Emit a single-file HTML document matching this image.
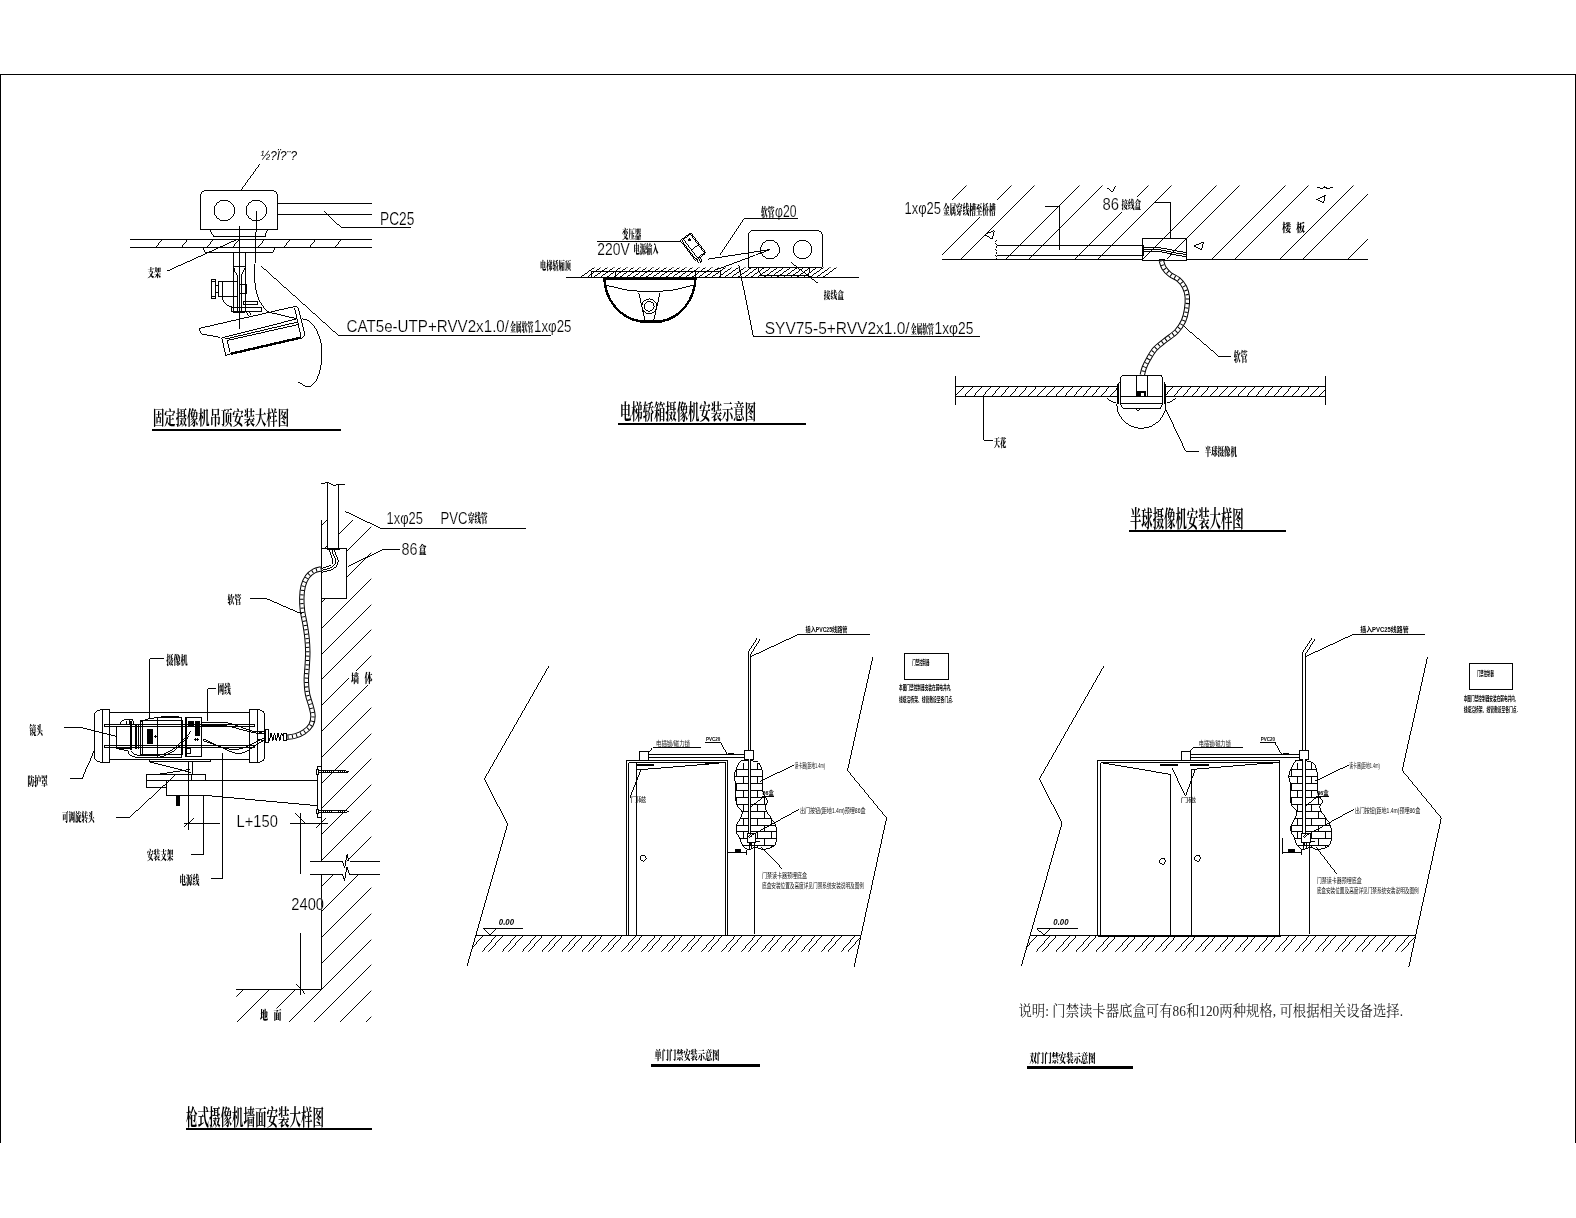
<!DOCTYPE html>
<html lang="zh-CN">
<head>
<meta charset="utf-8">
<title>摄像机及门禁安装大样图</title>
<style>
html,body{margin:0;padding:0;background:#fff;}
body{width:1576px;height:1218px;overflow:hidden;}
svg{display:block;will-change:transform;}
svg line,svg polyline,svg polygon,svg path,svg rect,svg circle,svg ellipse{fill:none;stroke:#000;stroke-width:0.99;}
svg .k{fill:#000;}
svg .wf{fill:#fff;}
svg .nf{fill:#fff;stroke:none;}
svg text{fill:#000;stroke:none;}
svg text.la{font-family:"Liberation Sans","Noto Sans CJK SC",sans-serif;stroke:#fff;stroke-width:0.2px;paint-order:fill stroke;}
svg text.cb{font-family:"Liberation Serif","Noto Serif CJK SC",serif;font-weight:900;}
svg text.ct{font-family:"Liberation Serif","Noto Serif CJK SC",serif;font-weight:700;}
svg text.cs{font-family:"Liberation Sans","Noto Sans CJK SC",sans-serif;font-weight:700;}
svg text.cl{font-family:"Liberation Sans","Noto Sans CJK SC",sans-serif;font-weight:400;fill:#111;}
svg text.it{font-family:"Liberation Sans","Noto Sans CJK SC",sans-serif;font-style:italic;}
svg text.ib{font-family:"Liberation Sans","Noto Sans CJK SC",sans-serif;font-style:italic;font-weight:700;}
svg text.nt{font-family:"Liberation Serif","Noto Serif CJK SC",serif;font-weight:400;fill:#222;}
</style>
</head>
<body>
<svg width="1576" height="1218" viewBox="0 0 1576 1218" shape-rendering="crispEdges">
<rect class="nf" x="0" y="0" width="1576" height="1218"/>
<g id="frame">
<line x1="0" y1="74.5" x2="1576" y2="74.5"/>
<line x1="0.5" y1="74" x2="0.5" y2="1143" style="stroke-width:1.4"/>
<line x1="1575.5" y1="74" x2="1575.5" y2="1143" style="stroke-width:1.4"/>
</g>
<g id="d1">
<text x="260.5" y="159.5" font-size="12.5" class="it" textLength="36.5" lengthAdjust="spacingAndGlyphs">½?Ï?¨?</text>
<line x1="260" y1="164" x2="241" y2="190"/>
<path d="M200.5,229.5 V197 Q200.5,190.5 207,190.5 H271 Q277.5,190.5 277.5,197 V229.5 Z"/>
<circle cx="224.3" cy="210.5" r="10.3"/>
<circle cx="256.4" cy="210.5" r="10.3"/>
<line x1="277.5" y1="203.3" x2="372" y2="203.3"/>
<line x1="277.5" y1="214.5" x2="372" y2="214.5"/>
<line x1="324.3" y1="211.7" x2="341.1" y2="227.4"/>
<line x1="341.1" y1="227.4" x2="411" y2="227.4"/>
<text x="380" y="225" font-size="17.64" class="la" textLength="34.3" lengthAdjust="spacingAndGlyphs">PC25</text>
<line x1="210" y1="229.5" x2="214.5" y2="236.3"/>
<line x1="214.5" y1="236.3" x2="264.5" y2="236.3"/>
<line x1="264.5" y1="236.3" x2="267" y2="229.5"/>
<line x1="213" y1="236.3" x2="266" y2="236.3"/>
<line x1="129.5" y1="239.5" x2="372" y2="239.5"/>
<line x1="129.5" y1="247.4" x2="372" y2="247.4"/>
<line x1="155" y1="247.4" x2="161.2" y2="239.5"/>
<line x1="180.6" y1="247.4" x2="186.8" y2="239.5"/>
<line x1="206.2" y1="247.4" x2="212.4" y2="239.5"/>
<line x1="231.8" y1="247.4" x2="238" y2="239.5"/>
<line x1="257.4" y1="247.4" x2="263.6" y2="239.5"/>
<line x1="283" y1="247.4" x2="289.2" y2="239.5"/>
<line x1="308.6" y1="247.4" x2="314.8" y2="239.5"/>
<line x1="334.2" y1="247.4" x2="340.4" y2="239.5"/>
<line x1="203.5" y1="247.5" x2="205.4" y2="252.2"/>
<line x1="205.4" y1="252.2" x2="272.8" y2="252.2"/>
<line x1="272.8" y1="252.2" x2="274.7" y2="247.5"/>
<line x1="233.4" y1="252.2" x2="233.4" y2="312"/>
<line x1="245.3" y1="252.2" x2="245.3" y2="312"/>
<line x1="239.4" y1="225.5" x2="239.4" y2="328.5"/>
<line x1="233.4" y1="266.8" x2="245.3" y2="266.8"/>
<path d="M234.3,267.5 Q234.8,273 237.2,275 M244.4,267.5 Q243.8,273 241.1,275"/>
<line x1="237.2" y1="275" x2="237.2" y2="311.5"/>
<line x1="241.1" y1="275" x2="241.1" y2="311.5"/>
<rect x="211.6" y="279.4" width="3.9" height="18.7"/>
<line x1="211.6" y1="281.3" x2="215.5" y2="281.3"/>
<line x1="211.6" y1="296.3" x2="215.5" y2="296.3"/>
<rect x="215.5" y="285" width="3.1" height="7.3"/>
<rect x="218.6" y="281.5" width="18.6" height="14.9"/>
<line x1="222" y1="281.5" x2="222" y2="296.4"/>
<rect x="239.4" y="284.6" width="7.3" height="8.6"/>
<line x1="246.5" y1="284.6" x2="246.5" y2="293.2" style="stroke-width:1.6"/>
<path d="M222.3,296.4 Q223,305.5 232.5,307.1"/>
<rect x="231.9" y="307.1" width="29.3" height="4.1"/>
<rect x="243.6" y="301.6" width="13.9" height="2.7"/>
<line x1="233.4" y1="312" x2="245.3" y2="312"/>
<line x1="246.5" y1="312" x2="248.5" y2="315.7"/>
<line x1="249.5" y1="312" x2="251.3" y2="315"/>
<line x1="256.4" y1="210.5" x2="255.4" y2="263"/>
<path d="M254.2,264.3 C254.28,267.02 254.22,275.62 254.7,280.6 C255.18,285.58 255.98,290.3 257.1,294.2 C258.22,298.1 259.65,301.17 261.4,304 C263.15,306.83 265.13,309.55 267.6,311.2 C270.07,312.85 271.28,312.63 276.2,313.9 C281.12,315.17 293.62,317.98 297.1,318.8"/>
<line x1="220.2" y1="337.3" x2="202.3" y2="334.2"/>
<line x1="202.3" y1="334.2" x2="200.5" y2="333.3"/>
<line x1="200.5" y1="333.3" x2="199.2" y2="328.4"/>
<line x1="199.2" y1="328.4" x2="294.7" y2="306.5"/>
<line x1="294.7" y1="306.5" x2="298.4" y2="307.5"/>
<line x1="298.4" y1="307.5" x2="305.1" y2="334.8"/>
<line x1="305.1" y1="334.8" x2="301.5" y2="337.3"/>
<line x1="294.7" y1="308.3" x2="300.8" y2="336"/>
<line x1="221.8" y1="337.9" x2="297.1" y2="318.8"/>
<line x1="225.1" y1="339.1" x2="298.4" y2="321.9"/>
<line x1="227.6" y1="340.4" x2="299" y2="324.4"/>
<line x1="221.8" y1="337.9" x2="225.7" y2="355.5"/>
<line x1="225.7" y1="355.5" x2="231.3" y2="353.5"/>
<line x1="227" y1="340.4" x2="230" y2="351.5"/>
<line x1="231.3" y1="353.7" x2="301.5" y2="337.5" style="stroke-width:2.4"/>
<path d="M301.5,318.8 C302.62,319.12 305.85,319.05 308.2,320.7 C310.55,322.35 313.55,325.32 315.6,328.7 C317.65,332.08 319.47,336.9 320.5,341 C321.53,345.1 321.8,348.78 321.8,353.3 C321.8,357.82 321.33,363.78 320.5,368.1 C319.67,372.42 318.23,376.33 316.8,379.2 C315.37,382.07 313.53,384.07 311.9,385.3 C310.27,386.53 309.25,387.12 307,386.6 C304.75,386.08 299.83,382.93 298.4,382.2"/>
<line x1="261.2" y1="266.1" x2="338.4" y2="335.4"/>
<line x1="338.4" y1="335.4" x2="551" y2="335.4"/>
<text x="346.5" y="331.9" font-size="16.81" class="la" textLength="162.5" lengthAdjust="spacingAndGlyphs">CAT5e-UTP+RVV2x1.0/</text>
<text x="510" y="332.16" font-size="12.04" class="cb" textLength="23.5" lengthAdjust="spacingAndGlyphs">金属软管</text>
<text x="534" y="331.9" font-size="16.81" class="la" textLength="37.5" lengthAdjust="spacingAndGlyphs">1xφ25</text>
<text x="147.5" y="277.02" font-size="11.08" class="cb" textLength="13.5" lengthAdjust="spacingAndGlyphs">支架</text>
<line x1="167" y1="271.2" x2="237" y2="239.5"/>
<text x="153" y="425.15" font-size="19.35" class="ct" textLength="136" lengthAdjust="spacingAndGlyphs">固定摄像机吊顶安装大样图</text>
<line x1="152" y1="430" x2="341" y2="430" style="stroke-width:2"/>
</g>
<g id="d2">
<clipPath id="c2"><polygon points="576,277.3 591,267.4 841,267.4 826,277.3"/></clipPath>
<g clip-path="url(#c2)">
<line x1="-1979.1" y1="2097.3" x2="3100.9" y2="-1542.7"/>
<line x1="-1972.55" y1="2097.3" x2="3107.45" y2="-1542.7"/>
<line x1="-1966" y1="2097.3" x2="3114" y2="-1542.7"/>
<line x1="-1959.45" y1="2097.3" x2="3120.55" y2="-1542.7"/>
<line x1="-1952.9" y1="2097.3" x2="3127.1" y2="-1542.7"/>
<line x1="-1946.35" y1="2097.3" x2="3133.65" y2="-1542.7"/>
<line x1="-1939.8" y1="2097.3" x2="3140.2" y2="-1542.7"/>
<line x1="-1933.25" y1="2097.3" x2="3146.75" y2="-1542.7"/>
<line x1="-1926.7" y1="2097.3" x2="3153.3" y2="-1542.7"/>
<line x1="-1920.15" y1="2097.3" x2="3159.85" y2="-1542.7"/>
<line x1="-1913.6" y1="2097.3" x2="3166.4" y2="-1542.7"/>
<line x1="-1907.05" y1="2097.3" x2="3172.95" y2="-1542.7"/>
<line x1="-1900.5" y1="2097.3" x2="3179.5" y2="-1542.7"/>
<line x1="-1893.95" y1="2097.3" x2="3186.05" y2="-1542.7"/>
<line x1="-1887.4" y1="2097.3" x2="3192.6" y2="-1542.7"/>
<line x1="-1880.85" y1="2097.3" x2="3199.15" y2="-1542.7"/>
<line x1="-1874.3" y1="2097.3" x2="3205.7" y2="-1542.7"/>
<line x1="-1867.75" y1="2097.3" x2="3212.25" y2="-1542.7"/>
<line x1="-1861.2" y1="2097.3" x2="3218.8" y2="-1542.7"/>
<line x1="-1854.65" y1="2097.3" x2="3225.35" y2="-1542.7"/>
<line x1="-1848.1" y1="2097.3" x2="3231.9" y2="-1542.7"/>
<line x1="-1841.55" y1="2097.3" x2="3238.45" y2="-1542.7"/>
<line x1="-1835" y1="2097.3" x2="3245" y2="-1542.7"/>
<line x1="-1828.45" y1="2097.3" x2="3251.55" y2="-1542.7"/>
<line x1="-1821.9" y1="2097.3" x2="3258.1" y2="-1542.7"/>
<line x1="-1815.35" y1="2097.3" x2="3264.65" y2="-1542.7"/>
<line x1="-1808.8" y1="2097.3" x2="3271.2" y2="-1542.7"/>
<line x1="-1802.25" y1="2097.3" x2="3277.75" y2="-1542.7"/>
<line x1="-1795.7" y1="2097.3" x2="3284.3" y2="-1542.7"/>
<line x1="-1789.15" y1="2097.3" x2="3290.85" y2="-1542.7"/>
<line x1="-1782.6" y1="2097.3" x2="3297.4" y2="-1542.7"/>
<line x1="-1776.05" y1="2097.3" x2="3303.95" y2="-1542.7"/>
<line x1="-1769.5" y1="2097.3" x2="3310.5" y2="-1542.7"/>
<line x1="-1762.95" y1="2097.3" x2="3317.05" y2="-1542.7"/>
<line x1="-1756.4" y1="2097.3" x2="3323.6" y2="-1542.7"/>
<line x1="-1749.85" y1="2097.3" x2="3330.15" y2="-1542.7"/>
<line x1="-1743.3" y1="2097.3" x2="3336.7" y2="-1542.7"/>
<line x1="-1736.75" y1="2097.3" x2="3343.25" y2="-1542.7"/>
<line x1="-1730.2" y1="2097.3" x2="3349.8" y2="-1542.7"/>
<line x1="-1723.65" y1="2097.3" x2="3356.35" y2="-1542.7"/>
<line x1="-1717.1" y1="2097.3" x2="3362.9" y2="-1542.7"/>
<line x1="-1710.55" y1="2097.3" x2="3369.45" y2="-1542.7"/>
<line x1="-1704" y1="2097.3" x2="3376" y2="-1542.7"/>
<line x1="-1697.45" y1="2097.3" x2="3382.55" y2="-1542.7"/>
<line x1="-1690.9" y1="2097.3" x2="3389.1" y2="-1542.7"/>
</g>
<line x1="566" y1="277.4" x2="859" y2="277.4"/>
<rect x="591.5" y="271.2" width="128.5" height="6.1"/>
<line x1="615.3" y1="271.2" x2="615.3" y2="277.3"/>
<line x1="695.5" y1="271.2" x2="695.5" y2="277.3"/>
<path d="M604.2,277.6 C605,300 620,318 640,321.3 H661.5 C680,318 695,300 695.6,277.6" style="stroke-width:2.4"/>
<line x1="603.2" y1="278.4" x2="696.6" y2="278.4" style="stroke-width:2.2"/>
<path d="M605.2,285 Q650,299 694.6,285"/>
<line x1="638.7" y1="292.6" x2="645" y2="320.3"/>
<line x1="645" y1="320.3" x2="653.8" y2="320.3"/>
<line x1="653.8" y1="320.3" x2="660" y2="292.6"/>
<circle cx="649.2" cy="306.3" r="7.4"/>
<circle cx="649.2" cy="306.3" r="4.9"/>
<g transform="translate(693.1,246.7) rotate(53.2)">
<rect x="-12.7" y="-6.5" width="25.4" height="13" rx="1.5"/>
<rect x="-11.6" y="-5.4" width="23.2" height="10.8"/>
<line x1="1.5" y1="-5.4" x2="1.5" y2="3.2"/>
<line x1="-11.6" y1="3.2" x2="11.6" y2="3.2"/>
<rect class="k" x="-9" y="-2.6" width="2.6" height="2.6" style="stroke:none"/>
<rect x="12.7" y="1.2" width="4.5" height="3.2"/>
<line x1="12.7" y1="2.8" x2="17.2" y2="2.8"/>
</g>
<line x1="708" y1="259.1" x2="770.4" y2="249.5"/>
<line x1="714.7" y1="270.3" x2="770.4" y2="249.5"/>
<text x="622" y="238.96" font-size="12.04" class="cb" textLength="19.3" lengthAdjust="spacingAndGlyphs">变压器</text>
<line x1="597" y1="241" x2="680.5" y2="241"/>
<text x="597.3" y="255" font-size="16.67" class="la" textLength="32.5" lengthAdjust="spacingAndGlyphs">220V</text>
<text x="633.6" y="254.45" font-size="12.15" class="cb" textLength="25" lengthAdjust="spacingAndGlyphs">电源输入</text>
<text x="540" y="269.99" font-size="11.61" class="cb" textLength="31" lengthAdjust="spacingAndGlyphs">电梯轿厢顶</text>
<text x="761" y="216.63" font-size="12.37" class="cb" textLength="13.5" lengthAdjust="spacingAndGlyphs">软管</text>
<text x="775" y="217.3" font-size="15.97" class="la" textLength="21.5" lengthAdjust="spacingAndGlyphs">φ20</text>
<line x1="798" y1="218.8" x2="743.8" y2="218.8"/>
<line x1="743.8" y1="218.8" x2="720" y2="255"/>
<path d="M748.2,267 V236.5 Q748.2,230.2 754.5,230.2 H816 Q822.4,230.2 822.4,236.5 V267 Z" style="fill:#fff"/>
<circle cx="770" cy="249.5" r="9.4"/>
<circle cx="802.5" cy="249.5" r="9.4"/>
<line x1="748.2" y1="252.9" x2="770.4" y2="249.5"/>
<line x1="748.2" y1="257.7" x2="770.4" y2="249.5"/>
<line x1="757.5" y1="267" x2="761" y2="275.2"/>
<line x1="761" y1="275.2" x2="808.7" y2="275.2"/>
<line x1="808.7" y1="275.2" x2="810" y2="267"/>
<text x="823.8" y="299.06" font-size="10.54" class="cb" textLength="20" lengthAdjust="spacingAndGlyphs">接线盒</text>
<line x1="791" y1="262.5" x2="817.5" y2="283"/>
<line x1="738.8" y1="265" x2="753.3" y2="336"/>
<line x1="753.3" y1="336" x2="980" y2="336"/>
<text x="764.7" y="333.5" font-size="16.67" class="la" textLength="145" lengthAdjust="spacingAndGlyphs">SYV75-5+RVV2x1.0/</text>
<text x="910.8" y="333.74" font-size="12.26" class="cb" textLength="23" lengthAdjust="spacingAndGlyphs">金属软管</text>
<text x="934.5" y="333.5" font-size="16.67" class="la" textLength="39" lengthAdjust="spacingAndGlyphs">1xφ25</text>
<text x="620" y="419.03" font-size="20.97" class="ct" textLength="136" lengthAdjust="spacingAndGlyphs">电梯轿箱摄像机安装示意图</text>
<line x1="618" y1="424" x2="806" y2="424" style="stroke-width:2"/>
</g>
<g id="d3">
<clipPath id="c3"><polygon points="942,259 942,185.6 1368,185.6 1368,259"/></clipPath>
<g clip-path="url(#c3)">
<line x1="-1175.8" y1="2259" x2="2824.2" y2="-1741"/>
<line x1="-1107.4" y1="2259" x2="2892.6" y2="-1741"/>
<line x1="-1062" y1="2259" x2="2938" y2="-1741"/>
<line x1="-1039" y1="2259" x2="2961" y2="-1741"/>
<line x1="-993.6" y1="2259" x2="3006.4" y2="-1741"/>
<line x1="-970.6" y1="2259" x2="3029.4" y2="-1741"/>
<line x1="-925.2" y1="2259" x2="3074.8" y2="-1741"/>
<line x1="-902.2" y1="2259" x2="3097.8" y2="-1741"/>
<line x1="-856.8" y1="2259" x2="3143.2" y2="-1741"/>
<line x1="-833.8" y1="2259" x2="3166.2" y2="-1741"/>
<line x1="-788.4" y1="2259" x2="3211.6" y2="-1741"/>
<line x1="-765.4" y1="2259" x2="3234.6" y2="-1741"/>
<line x1="-720" y1="2259" x2="3280" y2="-1741"/>
<line x1="-697" y1="2259" x2="3303" y2="-1741"/>
<line x1="-651.6" y1="2259" x2="3348.4" y2="-1741"/>
<line x1="-628.6" y1="2259" x2="3371.4" y2="-1741"/>
<line x1="-583.2" y1="2259" x2="3416.8" y2="-1741"/>
<line x1="-560.2" y1="2259" x2="3439.8" y2="-1741"/>
</g>
<rect class="nf" x="940" y="200" width="56.5" height="16.5"/>
<rect class="nf" x="1101" y="196.5" width="41" height="15"/>
<rect class="nf" x="1280" y="221.5" width="23" height="12.5"/>
<line x1="942" y1="259.2" x2="1368" y2="259.2"/>
<line x1="996.5" y1="245.3" x2="1142.5" y2="245.3"/>
<line x1="996.5" y1="255.4" x2="1142.5" y2="255.4"/>
<path d="M996.5,240 l-1.2,3 l1.6,3 l-1.6,3 l1.6,3 l-1.6,3 l1.6,3 l-0.8,2.5" stroke-dasharray="2.2 1.2"/>
<text x="904.5" y="213.6" font-size="17.08" class="la" textLength="36.5" lengthAdjust="spacingAndGlyphs">1xφ25</text>
<text x="943" y="213.91" font-size="12.69" class="cb" textLength="52.5" lengthAdjust="spacingAndGlyphs">金属穿线槽至桥槽</text>
<line x1="1045.3" y1="206.2" x2="1059.3" y2="206.2"/>
<line x1="1059.3" y1="206.2" x2="1059.3" y2="249.5"/>
<text x="1102.5" y="209.8" font-size="16.67" class="la" textLength="16.5" lengthAdjust="spacingAndGlyphs">86</text>
<text x="1121.5" y="209.49" font-size="11.61" class="cb" textLength="19.5" lengthAdjust="spacingAndGlyphs">接线盒</text>
<line x1="1153.8" y1="202.5" x2="1170.5" y2="202.5"/>
<line x1="1170.5" y1="202.5" x2="1170.5" y2="245"/>
<text x="1282" y="232.21" font-size="11.29" class="cb" textLength="9" lengthAdjust="spacingAndGlyphs">楼</text>
<text x="1296" y="232.21" font-size="11.29" class="cb" textLength="9" lengthAdjust="spacingAndGlyphs">板</text>
<rect x="1142.5" y="238.3" width="44.3" height="21.7" style="fill:#fff"/>
<g clip-path="url(#c3)">
<line x1="1142.5" y1="260" x2="1164.2" y2="238.3"/>
<line x1="1165.5" y1="260" x2="1186.8" y2="238.7"/>
</g>
<path d="M1142.5,247.5 H1152 C1162,247 1166,249.5 1186.8,252.5 M1142.5,249.5 H1153 C1163,249 1168,252.5 1186.8,254.5 M1142.5,251.6 H1154 C1164,251 1170,255 1186.8,256.5"/>
<line x1="1143.3" y1="245" x2="1143.3" y2="256" style="stroke-width:1.6"/>
<line x1="1159" y1="260.2" x2="1165" y2="260.2" style="stroke-width:2.2"/>
<line x1="984.7" y1="234.5" x2="994.2" y2="230.5"/>
<line x1="994.2" y1="230.5" x2="992" y2="239.2"/>
<line x1="992" y1="239.2" x2="984.7" y2="234.5"/>
<line x1="1106.6" y1="187.4" x2="1112.4" y2="192.2"/>
<line x1="1112.4" y1="192.2" x2="1115.3" y2="186"/>
<line x1="1193.8" y1="246" x2="1203.5" y2="242"/>
<line x1="1203.5" y1="242" x2="1201.5" y2="249.8"/>
<line x1="1201.5" y1="249.8" x2="1193.8" y2="246"/>
<line x1="1315.5" y1="199.5" x2="1325.3" y2="195.2"/>
<line x1="1325.3" y1="195.2" x2="1323.4" y2="203.3"/>
<line x1="1323.4" y1="203.3" x2="1315.5" y2="199.5"/>
<path d="M1317,187 l5,1.6 l3,-1.8 l3,1.8 l5,-1.2 M1324,186 l3.5,3"/>
<g shape-rendering="geometricPrecision">
<path d="M1161.3,260.5 C1161.75,261.75 1162.55,265.67 1164,268 C1165.45,270.33 1167.58,272.58 1170,274.5 C1172.42,276.42 1176.08,277.42 1178.5,279.5 C1180.92,281.58 1183.03,284.08 1184.5,287 C1185.97,289.92 1186.97,293.17 1187.3,297 C1187.63,300.83 1187.13,306 1186.5,310 C1185.87,314 1185.17,317.42 1183.5,321 C1181.83,324.58 1179.58,328.25 1176.5,331.5 C1173.42,334.75 1168.58,337.58 1165,340.5 C1161.42,343.42 1157.75,345.92 1155,349 C1152.25,352.08 1150.28,355.92 1148.5,359 C1146.72,362.08 1145.33,364.83 1144.3,367.5 C1143.27,370.17 1142.63,373.75 1142.3,375" style="stroke-width:5.4"/>
<path d="M1161.3,260.5 C1161.75,261.75 1162.55,265.67 1164,268 C1165.45,270.33 1167.58,272.58 1170,274.5 C1172.42,276.42 1176.08,277.42 1178.5,279.5 C1180.92,281.58 1183.03,284.08 1184.5,287 C1185.97,289.92 1186.97,293.17 1187.3,297 C1187.63,300.83 1187.13,306 1186.5,310 C1185.87,314 1185.17,317.42 1183.5,321 C1181.83,324.58 1179.58,328.25 1176.5,331.5 C1173.42,334.75 1168.58,337.58 1165,340.5 C1161.42,343.42 1157.75,345.92 1155,349 C1152.25,352.08 1150.28,355.92 1148.5,359 C1146.72,362.08 1145.33,364.83 1144.3,367.5 C1143.27,370.17 1142.63,373.75 1142.3,375" style="stroke:#fff;stroke-width:3.4"/>
<path d="M1161.3,260.5 C1161.75,261.75 1162.55,265.67 1164,268 C1165.45,270.33 1167.58,272.58 1170,274.5 C1172.42,276.42 1176.08,277.42 1178.5,279.5 C1180.92,281.58 1183.03,284.08 1184.5,287 C1185.97,289.92 1186.97,293.17 1187.3,297 C1187.63,300.83 1187.13,306 1186.5,310 C1185.87,314 1185.17,317.42 1183.5,321 C1181.83,324.58 1179.58,328.25 1176.5,331.5 C1173.42,334.75 1168.58,337.58 1165,340.5 C1161.42,343.42 1157.75,345.92 1155,349 C1152.25,352.08 1150.28,355.92 1148.5,359 C1146.72,362.08 1145.33,364.83 1144.3,367.5 C1143.27,370.17 1142.63,373.75 1142.3,375" style="stroke:#000;stroke-width:3.4;stroke-dasharray:1 3.4"/>
</g>
<line x1="1183.8" y1="326.3" x2="1218.8" y2="356.3"/>
<line x1="1218.8" y1="356.3" x2="1231.3" y2="356.3"/>
<text x="1233.8" y="361.12" font-size="12.58" class="cb" textLength="13.7" lengthAdjust="spacingAndGlyphs">软管</text>
<clipPath id="c3c"><polygon points="955.8,386.3 1325.6,386.3 1325.6,396.5 955.8,396.5"/></clipPath>
<g clip-path="url(#c3c)">
<line x1="-834" y1="2396.5" x2="2726" y2="-1603.5"/>
<line x1="-824.9" y1="2396.5" x2="2735.1" y2="-1603.5"/>
<line x1="-815.8" y1="2396.5" x2="2744.2" y2="-1603.5"/>
<line x1="-806.7" y1="2396.5" x2="2753.3" y2="-1603.5"/>
<line x1="-797.6" y1="2396.5" x2="2762.4" y2="-1603.5"/>
<line x1="-788.5" y1="2396.5" x2="2771.5" y2="-1603.5"/>
<line x1="-779.4" y1="2396.5" x2="2780.6" y2="-1603.5"/>
<line x1="-770.3" y1="2396.5" x2="2789.7" y2="-1603.5"/>
<line x1="-761.2" y1="2396.5" x2="2798.8" y2="-1603.5"/>
<line x1="-752.1" y1="2396.5" x2="2807.9" y2="-1603.5"/>
<line x1="-743" y1="2396.5" x2="2817" y2="-1603.5"/>
<line x1="-733.9" y1="2396.5" x2="2826.1" y2="-1603.5"/>
<line x1="-724.8" y1="2396.5" x2="2835.2" y2="-1603.5"/>
<line x1="-715.7" y1="2396.5" x2="2844.3" y2="-1603.5"/>
<line x1="-706.6" y1="2396.5" x2="2853.4" y2="-1603.5"/>
<line x1="-697.5" y1="2396.5" x2="2862.5" y2="-1603.5"/>
<line x1="-688.4" y1="2396.5" x2="2871.6" y2="-1603.5"/>
<line x1="-679.3" y1="2396.5" x2="2880.7" y2="-1603.5"/>
<line x1="-670.2" y1="2396.5" x2="2889.8" y2="-1603.5"/>
<line x1="-661.1" y1="2396.5" x2="2898.9" y2="-1603.5"/>
<line x1="-652" y1="2396.5" x2="2908" y2="-1603.5"/>
<line x1="-642.9" y1="2396.5" x2="2917.1" y2="-1603.5"/>
<line x1="-633.8" y1="2396.5" x2="2926.2" y2="-1603.5"/>
<line x1="-624.7" y1="2396.5" x2="2935.3" y2="-1603.5"/>
<line x1="-615.6" y1="2396.5" x2="2944.4" y2="-1603.5"/>
<line x1="-606.5" y1="2396.5" x2="2953.5" y2="-1603.5"/>
<line x1="-597.4" y1="2396.5" x2="2962.6" y2="-1603.5"/>
<line x1="-588.3" y1="2396.5" x2="2971.7" y2="-1603.5"/>
<line x1="-579.2" y1="2396.5" x2="2980.8" y2="-1603.5"/>
<line x1="-570.1" y1="2396.5" x2="2989.9" y2="-1603.5"/>
<line x1="-561" y1="2396.5" x2="2999" y2="-1603.5"/>
<line x1="-551.9" y1="2396.5" x2="3008.1" y2="-1603.5"/>
<line x1="-542.8" y1="2396.5" x2="3017.2" y2="-1603.5"/>
<line x1="-533.7" y1="2396.5" x2="3026.3" y2="-1603.5"/>
<line x1="-524.6" y1="2396.5" x2="3035.4" y2="-1603.5"/>
<line x1="-515.5" y1="2396.5" x2="3044.5" y2="-1603.5"/>
<line x1="-506.4" y1="2396.5" x2="3053.6" y2="-1603.5"/>
<line x1="-497.3" y1="2396.5" x2="3062.7" y2="-1603.5"/>
<line x1="-488.2" y1="2396.5" x2="3071.8" y2="-1603.5"/>
<line x1="-479.1" y1="2396.5" x2="3080.9" y2="-1603.5"/>
<line x1="-470" y1="2396.5" x2="3090" y2="-1603.5"/>
<line x1="-460.9" y1="2396.5" x2="3099.1" y2="-1603.5"/>
<line x1="-451.8" y1="2396.5" x2="3108.2" y2="-1603.5"/>
<line x1="-442.7" y1="2396.5" x2="3117.3" y2="-1603.5"/>
<line x1="-433.6" y1="2396.5" x2="3126.4" y2="-1603.5"/>
</g>
<line x1="955.8" y1="386.3" x2="1325.6" y2="386.3"/>
<line x1="955.8" y1="396.7" x2="1325.6" y2="396.7"/>
<line x1="955.8" y1="376" x2="955.8" y2="404.6"/>
<line x1="1325.6" y1="376.3" x2="1325.6" y2="404.8"/>
<line x1="983.8" y1="396.7" x2="983.8" y2="440"/>
<line x1="983.8" y1="440" x2="992.5" y2="440"/>
<text x="993.8" y="447.19" font-size="11.51" class="cb" textLength="12.5" lengthAdjust="spacingAndGlyphs">天花</text>
<rect class="nf" x="1117" y="385" width="49" height="13"/>
<path d="M1120.4,403.7 V377.5 L1122.5,375.1 H1160.7 L1162.8,377.5 V403.7 L1160.6,408 H1122.8 Z" style="fill:#fff"/>
<line x1="1120.4" y1="396.7" x2="1162.8" y2="396.7"/>
<line x1="1120.4" y1="403.7" x2="1162.8" y2="403.7"/>
<line x1="1136.5" y1="375.1" x2="1136.5" y2="396.7"/>
<line x1="1147" y1="375.1" x2="1147" y2="396.7"/>
<rect class="k" x="1136.5" y="391" width="9.2" height="5.7"/>
<rect class="wf" x="1140" y="392.5" width="4" height="4.2"/>
<line x1="1118" y1="383.5" x2="1118" y2="403.5" style="stroke-width:2"/>
<line x1="1165.2" y1="383.5" x2="1165.2" y2="403.5" style="stroke-width:2"/>
<line x1="1119.3" y1="382" x2="1117.5" y2="386"/>
<line x1="1163.9" y1="382" x2="1165.7" y2="386"/>
<path d="M1116.8,403.7 A24.6,24.6 0 0 0 1166,403.7"/>
<path d="M1107.6,397.5 Q1110,402.5 1116.2,402.4 M1175.2,397.5 Q1172.8,402.5 1166.6,402.4"/>
<line x1="1136" y1="409" x2="1138" y2="411"/>
<line x1="1138" y1="411" x2="1140" y2="409"/>
<line x1="1165.7" y1="409" x2="1185.7" y2="451.3"/>
<line x1="1185.7" y1="451.3" x2="1199" y2="451.3"/>
<text x="1204.7" y="455.99" font-size="11.61" class="cb" textLength="32.3" lengthAdjust="spacingAndGlyphs">半球摄像机</text>
<text x="1130" y="526.73" font-size="22.37" class="ct" textLength="113.7" lengthAdjust="spacingAndGlyphs">半球摄像机安装大样图</text>
<line x1="1129" y1="531" x2="1286" y2="531" style="stroke-width:2"/>
</g>
<g id="d4">
<clipPath id="c4"><path d="M321.3,520 H371.3 V1022 H236.3 V989.3 H321.3 Z M327.5,520 H338.8 V548.5 H327.5 Z M321.3,548 H346.3 V598.3 H321.3 Z M349,671 H371.3 V685 H349 Z M258,1008.5 H283 V1022 H258 Z M321.3,861.3 H371.3 V874.7 H321.3 Z" clip-rule="evenodd"/></clipPath>
<g clip-path="url(#c4)">
<line x1="-2245.42" y1="2989.3" x2="1754.58" y2="-1010.7"/>
<line x1="-2219.66" y1="2989.3" x2="1780.34" y2="-1010.7"/>
<line x1="-2193.9" y1="2989.3" x2="1806.1" y2="-1010.7"/>
<line x1="-2168.14" y1="2989.3" x2="1831.86" y2="-1010.7"/>
<line x1="-2142.38" y1="2989.3" x2="1857.62" y2="-1010.7"/>
<line x1="-2116.62" y1="2989.3" x2="1883.38" y2="-1010.7"/>
<line x1="-2090.86" y1="2989.3" x2="1909.14" y2="-1010.7"/>
<line x1="-2065.1" y1="2989.3" x2="1934.9" y2="-1010.7"/>
<line x1="-2039.34" y1="2989.3" x2="1960.66" y2="-1010.7"/>
<line x1="-2013.58" y1="2989.3" x2="1986.42" y2="-1010.7"/>
<line x1="-1987.82" y1="2989.3" x2="2012.18" y2="-1010.7"/>
<line x1="-1962.06" y1="2989.3" x2="2037.94" y2="-1010.7"/>
<line x1="-1936.3" y1="2989.3" x2="2063.7" y2="-1010.7"/>
<line x1="-1910.54" y1="2989.3" x2="2089.46" y2="-1010.7"/>
<line x1="-1884.78" y1="2989.3" x2="2115.22" y2="-1010.7"/>
<line x1="-1859.02" y1="2989.3" x2="2140.98" y2="-1010.7"/>
<line x1="-1833.26" y1="2989.3" x2="2166.74" y2="-1010.7"/>
<line x1="-1807.5" y1="2989.3" x2="2192.5" y2="-1010.7"/>
<line x1="-1781.74" y1="2989.3" x2="2218.26" y2="-1010.7"/>
<line x1="-1755.98" y1="2989.3" x2="2244.02" y2="-1010.7"/>
<line x1="-1730.22" y1="2989.3" x2="2269.78" y2="-1010.7"/>
<line x1="-1704.46" y1="2989.3" x2="2295.54" y2="-1010.7"/>
<line x1="-1678.7" y1="2989.3" x2="2321.3" y2="-1010.7"/>
<line x1="-1652.94" y1="2989.3" x2="2347.06" y2="-1010.7"/>
<line x1="-1627.18" y1="2989.3" x2="2372.82" y2="-1010.7"/>
<line x1="-1601.42" y1="2989.3" x2="2398.58" y2="-1010.7"/>
<line x1="-1575.66" y1="2989.3" x2="2424.34" y2="-1010.7"/>
<line x1="-1549.9" y1="2989.3" x2="2450.1" y2="-1010.7"/>
</g>
<line x1="321.3" y1="520" x2="321.3" y2="861.3"/>
<line x1="321.3" y1="874.7" x2="321.3" y2="989.3"/>
<line x1="236.3" y1="989.3" x2="321.3" y2="989.3"/>
<line x1="327.5" y1="482.5" x2="327.5" y2="548.5"/>
<line x1="338.8" y1="484.5" x2="338.8" y2="548.5"/>
<path d="M321.3,484 L327.5,482.5 L333,485.5 L338.8,484.5 L345,485"/>
<rect x="321.3" y="548.3" width="25" height="50" style="fill:#fff"/>
<line x1="326.5" y1="548.8" x2="339.5" y2="548.8" style="stroke-width:1.8"/>
<path d="M329.5,549 C330,556 333,557 332.5,562 C332,566 327,567 321.5,568 M332,549 C332.5,556 336,557 335.5,562 C335,567 329,569 321.5,570 M334.5,549 C335,556 338.5,557 338,562 C337.5,568 331,571 321.5,572"/>
<line x1="345" y1="511.3" x2="380" y2="528"/>
<line x1="380" y1="528" x2="526" y2="528"/>
<text x="386.5" y="523.5" font-size="16.25" class="la" textLength="36.5" lengthAdjust="spacingAndGlyphs">1xφ25</text>
<text x="440.5" y="523.5" font-size="16.25" class="la" textLength="27" lengthAdjust="spacingAndGlyphs">PVC</text>
<text x="468" y="523.45" font-size="12.15" class="cb" textLength="19.5" lengthAdjust="spacingAndGlyphs">穿线管</text>
<line x1="347.5" y1="566" x2="382.5" y2="549.5"/>
<line x1="382.5" y1="549.5" x2="400" y2="549.5"/>
<text x="401.5" y="554.5" font-size="15.97" class="la" textLength="16" lengthAdjust="spacingAndGlyphs">86</text>
<text x="418.5" y="554.47" font-size="11.83" class="cb" textLength="8" lengthAdjust="spacingAndGlyphs">盒</text>
<text x="351" y="683.13" font-size="12.37" class="cb" textLength="8" lengthAdjust="spacingAndGlyphs">墙</text>
<text x="364.5" y="683.13" font-size="12.37" class="cb" textLength="8" lengthAdjust="spacingAndGlyphs">体</text>
<g shape-rendering="geometricPrecision">
<path d="M321.3,568.8 C320.08,569.17 316.3,569.72 314,571 C311.7,572.28 309.3,574 307.5,576.5 C305.7,579 304.15,582.42 303.2,586 C302.25,589.58 301.92,593.83 301.8,598 C301.68,602.17 301.97,606.67 302.5,611 C303.03,615.33 304.25,619.5 305,624 C305.75,628.5 306.53,633.33 307,638 C307.47,642.67 307.77,647.33 307.8,652 C307.83,656.67 307.45,661.33 307.2,666 C306.95,670.67 306.25,675.33 306.3,680 C306.35,684.67 306.72,689.67 307.5,694 C308.28,698.33 310.08,702.33 311,706 C311.92,709.67 313,712.83 313,716 C313,719.17 312.5,722.33 311,725 C309.5,727.67 306.67,730.17 304,732 C301.33,733.83 297.95,735.12 295,736 C292.05,736.88 287.75,737.08 286.3,737.3" style="stroke-width:5.4"/>
<path d="M321.3,568.8 C320.08,569.17 316.3,569.72 314,571 C311.7,572.28 309.3,574 307.5,576.5 C305.7,579 304.15,582.42 303.2,586 C302.25,589.58 301.92,593.83 301.8,598 C301.68,602.17 301.97,606.67 302.5,611 C303.03,615.33 304.25,619.5 305,624 C305.75,628.5 306.53,633.33 307,638 C307.47,642.67 307.77,647.33 307.8,652 C307.83,656.67 307.45,661.33 307.2,666 C306.95,670.67 306.25,675.33 306.3,680 C306.35,684.67 306.72,689.67 307.5,694 C308.28,698.33 310.08,702.33 311,706 C311.92,709.67 313,712.83 313,716 C313,719.17 312.5,722.33 311,725 C309.5,727.67 306.67,730.17 304,732 C301.33,733.83 297.95,735.12 295,736 C292.05,736.88 287.75,737.08 286.3,737.3" style="stroke:#fff;stroke-width:3.4"/>
<path d="M321.3,568.8 C320.08,569.17 316.3,569.72 314,571 C311.7,572.28 309.3,574 307.5,576.5 C305.7,579 304.15,582.42 303.2,586 C302.25,589.58 301.92,593.83 301.8,598 C301.68,602.17 301.97,606.67 302.5,611 C303.03,615.33 304.25,619.5 305,624 C305.75,628.5 306.53,633.33 307,638 C307.47,642.67 307.77,647.33 307.8,652 C307.83,656.67 307.45,661.33 307.2,666 C306.95,670.67 306.25,675.33 306.3,680 C306.35,684.67 306.72,689.67 307.5,694 C308.28,698.33 310.08,702.33 311,706 C311.92,709.67 313,712.83 313,716 C313,719.17 312.5,722.33 311,725 C309.5,727.67 306.67,730.17 304,732 C301.33,733.83 297.95,735.12 295,736 C292.05,736.88 287.75,737.08 286.3,737.3" style="stroke:#000;stroke-width:3.4;stroke-dasharray:1 3.4"/>
</g>
<rect x="283.3" y="733.8" width="3.5" height="6.8" style="fill:#fff"/>
<line x1="283.3" y1="737" x2="281.55" y2="732.6"/>
<line x1="281.55" y1="732.6" x2="279.8" y2="741.2"/>
<line x1="279.8" y1="741.2" x2="278.05" y2="732.6"/>
<line x1="278.05" y1="732.6" x2="276.3" y2="741.2"/>
<line x1="276.3" y1="741.2" x2="274.55" y2="732.6"/>
<line x1="274.55" y1="732.6" x2="272.8" y2="741.2"/>
<line x1="272.8" y1="741.2" x2="271.05" y2="732.6"/>
<line x1="271.05" y1="732.6" x2="269.3" y2="741.2"/>
<line x1="269.3" y1="741.2" x2="268.4" y2="736.5"/>
<text x="227.5" y="603.97" font-size="11.83" class="cb" textLength="13.8" lengthAdjust="spacingAndGlyphs">软管</text>
<line x1="249.5" y1="598" x2="265" y2="598"/>
<line x1="265" y1="598" x2="301.5" y2="613.8"/>
<path d="M102.1,709.6 C97,710 94.5,712 94.5,716 V756 C94.5,760 97,762 102.1,762.3"/>
<rect x="102.1" y="709.6" width="7.7" height="52.7"/>
<rect x="249.4" y="709.6" width="8.2" height="52.7"/>
<path d="M257.6,709.6 C262.5,710 264.8,712 264.8,716 V756 C264.8,760 262.5,762 257.6,762.3"/>
<line x1="109.8" y1="712.2" x2="249.4" y2="712.2"/>
<line x1="109.8" y1="759.7" x2="249.4" y2="759.7"/>
<rect x="104.7" y="724.5" width="149.7" height="2"/>
<rect x="104.7" y="745.5" width="149.7" height="2"/>
<rect x="116.1" y="726.4" width="14.6" height="21.9"/>
<path d="M120,724.5 C121,720 125,719.5 127,719.8 H131.5 M126.5,724.5 V720.5 M129.5,724.5 V720 M131.5,719.8 C133.5,720 134,722 134,724.5"/>
<line x1="130.9" y1="720.5" x2="130.9" y2="750" style="stroke-width:1.8"/>
<line x1="135.9" y1="724.5" x2="135.9" y2="748.5" style="stroke-width:1.8"/>
<line x1="138.3" y1="724.5" x2="138.3" y2="748.5"/>
<rect x="140.3" y="720.4" width="42.4" height="34.3"/>
<rect x="157.3" y="717.2" width="24.1" height="40.1"/>
<line x1="161" y1="717.3" x2="179" y2="717.3" style="stroke-width:1.8"/>
<path d="M140.3,722.5 C146,718.5 152,718 157.3,717.8"/>
<line x1="142.5" y1="720.4" x2="142.5" y2="754.7"/>
<rect class="k" x="147.2" y="729.9" width="5.7" height="14"/>
<path d="M154,736.5 h3 M155.5,735 v3"/>
<rect x="185.3" y="717.8" width="15.9" height="38.2"/>
<line x1="185.9" y1="717.8" x2="185.9" y2="756" style="stroke-width:1.7"/>
<rect class="k" x="188.4" y="721.6" width="5.2" height="5.2"/>
<rect class="k" x="195.4" y="721.6" width="3.8" height="14"/>
<rect x="186.5" y="748.3" width="3.9" height="5.1"/>
<path d="M194,739.5 h5 M195.2,738.3 v2.4 M197.8,738.3 v2.4"/>
<line x1="201.2" y1="725.6" x2="223.5" y2="725.6" style="stroke-width:2.2"/>
<path d="M201.2,722.3 H222 C236,723 246,731 257,731.8 H265.2"/>
<path d="M223.5,725.6 C238,727 248,733.5 265.2,733.8"/>
<path d="M203,738.8 C218,745 230,753 238,753.5 C247,753.5 255,745 265.2,739.5"/>
<path d="M203,740.5 C214,744 222,749 234,749.5 C245,749.5 254,742.5 265.2,737.5"/>
<path d="M128,751 C129,757 135,757.5 145,757.6 H156 C168,757 180,748 188.5,735.5"/>
<path d="M131.5,750.5 C133,755 138,755.6 146,755.7 H157 C170,754 181,744.5 190.5,730.5"/>
<path d="M116.1,748.3 L128,751"/>
<rect x="265.2" y="729.4" width="3.2" height="13.2"/>
<line x1="257.6" y1="733.3" x2="265.2" y2="731"/>
<line x1="257.6" y1="739" x2="265.2" y2="741"/>
<rect x="149.2" y="759.7" width="60.8" height="2"/>
<line x1="149.2" y1="761.7" x2="190.5" y2="772.3"/>
<line x1="157.5" y1="774.3" x2="189" y2="769.4"/>
<circle cx="188.5" cy="769.3" r="1"/>
<line x1="188.4" y1="761.7" x2="188.4" y2="829.5"/>
<line x1="192.9" y1="761.7" x2="192.9" y2="774.3"/>
<line x1="205.6" y1="780.7" x2="205.6" y2="774.3"/>
<line x1="205.6" y1="774.3" x2="146.3" y2="774.3"/>
<line x1="146.3" y1="774.3" x2="146.3" y2="787"/>
<line x1="146.3" y1="787" x2="166.2" y2="787"/>
<line x1="188.4" y1="774.3" x2="188.4" y2="829.5"/>
<line x1="191.4" y1="774.3" x2="191.4" y2="780.7"/>
<line x1="146.3" y1="780.7" x2="317" y2="780.7"/>
<line x1="166.2" y1="780.7" x2="166.2" y2="795.3"/>
<line x1="166.2" y1="795.3" x2="203.5" y2="795.3"/>
<line x1="203.5" y1="795.3" x2="317" y2="805.6"/>
<rect class="k" x="176.4" y="795.8" width="3.2" height="9.7"/>
<rect x="317" y="766.3" width="4.3" height="51.3" style="fill:#fff"/>
<rect x="316" y="769.6" width="2.6" height="4.4" style="fill:#fff"/>
<line x1="318.6" y1="770.9" x2="346" y2="770.9"/>
<line x1="318.6" y1="772.7" x2="346" y2="772.7"/>
<line x1="346" y1="770.9" x2="348.8" y2="771.8"/>
<line x1="348.8" y1="771.8" x2="346" y2="772.7"/>
<line x1="323" y1="771.8" x2="345" y2="771.8" style="stroke-width:3;stroke-dasharray:0.8 1.3"/>
<rect x="316" y="809.3" width="2.6" height="4.4" style="fill:#fff"/>
<line x1="318.6" y1="810.6" x2="346" y2="810.6"/>
<line x1="318.6" y1="812.4" x2="346" y2="812.4"/>
<line x1="346" y1="810.6" x2="348.8" y2="811.5"/>
<line x1="348.8" y1="811.5" x2="346" y2="812.4"/>
<line x1="323" y1="811.5" x2="345" y2="811.5" style="stroke-width:3;stroke-dasharray:0.8 1.3"/>
<line x1="183.8" y1="823.6" x2="220" y2="823.6"/>
<line x1="290" y1="823.6" x2="327.5" y2="823.6"/>
<line x1="183.8" y1="827.5" x2="193.8" y2="818"/>
<line x1="316.3" y1="827.5" x2="326.3" y2="818"/>
<line x1="295" y1="812.5" x2="306.3" y2="823.8"/>
<text x="236.6" y="827" font-size="16.39" class="la" textLength="41.3" lengthAdjust="spacingAndGlyphs">L+150</text>
<line x1="163.8" y1="658.8" x2="149.6" y2="658.8"/>
<line x1="149.6" y1="658.8" x2="149.6" y2="718"/>
<text x="166.3" y="665.45" font-size="12.15" class="cb" textLength="21.3" lengthAdjust="spacingAndGlyphs">摄像机</text>
<line x1="216.3" y1="688.5" x2="207.5" y2="688.5"/>
<line x1="207.5" y1="688.5" x2="207.5" y2="721"/>
<text x="217.5" y="694.16" font-size="12.04" class="cb" textLength="13.3" lengthAdjust="spacingAndGlyphs">网线</text>
<line x1="63.8" y1="727" x2="78.8" y2="727"/>
<line x1="78.8" y1="727" x2="116.1" y2="736.3"/>
<text x="29.5" y="735.45" font-size="12.15" class="cb" textLength="13.3" lengthAdjust="spacingAndGlyphs">镜头</text>
<line x1="70" y1="778" x2="82.5" y2="778"/>
<line x1="82.5" y1="778" x2="94.2" y2="749.5"/>
<text x="27.5" y="786.45" font-size="12.15" class="cb" textLength="20.3" lengthAdjust="spacingAndGlyphs">防护罩</text>
<line x1="116.3" y1="817" x2="130" y2="817"/>
<line x1="130" y1="817" x2="175" y2="775.3"/>
<text x="62" y="821.63" font-size="12.37" class="cb" textLength="32.6" lengthAdjust="spacingAndGlyphs">可调旋转头</text>
<line x1="191.3" y1="854.5" x2="203.8" y2="854.5"/>
<line x1="203.8" y1="854.5" x2="203.8" y2="795.5"/>
<text x="147" y="860.13" font-size="12.37" class="cb" textLength="26.3" lengthAdjust="spacingAndGlyphs">安装支架</text>
<line x1="211.3" y1="878.3" x2="222.5" y2="878.3"/>
<line x1="222.5" y1="878.3" x2="222.5" y2="752.5"/>
<text x="179.5" y="885.45" font-size="12.15" class="cb" textLength="19.8" lengthAdjust="spacingAndGlyphs">电源线</text>
<line x1="300" y1="812.5" x2="300" y2="873.8"/>
<line x1="300" y1="932.5" x2="300" y2="995"/>
<line x1="296.3" y1="983.8" x2="305" y2="993.8"/>
<text x="291.3" y="910.2" font-size="16.53" class="la" textLength="32.7" lengthAdjust="spacingAndGlyphs">2400</text>
<line x1="310" y1="861.3" x2="342.5" y2="861.3"/>
<line x1="342.5" y1="861.3" x2="344.5" y2="867.5"/>
<line x1="344.5" y1="867.5" x2="347" y2="853.5"/>
<line x1="347" y1="853.5" x2="349.5" y2="861.3"/>
<line x1="349.5" y1="861.3" x2="380" y2="861.3"/>
<line x1="310" y1="874.7" x2="342.5" y2="874.7"/>
<line x1="342.5" y1="874.7" x2="344.5" y2="880.9"/>
<line x1="344.5" y1="880.9" x2="347" y2="866.9"/>
<line x1="347" y1="866.9" x2="349.5" y2="874.7"/>
<line x1="349.5" y1="874.7" x2="380" y2="874.7"/>
<text x="260" y="1020.45" font-size="12.15" class="cb" textLength="8" lengthAdjust="spacingAndGlyphs">地</text>
<text x="273.5" y="1020.45" font-size="12.15" class="cb" textLength="8" lengthAdjust="spacingAndGlyphs">面</text>
<text x="186" y="1124.77" font-size="21.83" class="ct" textLength="138" lengthAdjust="spacingAndGlyphs">枪式摄像机墙面安装大样图</text>
<line x1="186" y1="1129" x2="372" y2="1129" style="stroke-width:2"/>
</g>
<g id="d5">
<line x1="548.8" y1="666.3" x2="484.5" y2="778.8"/>
<line x1="484.5" y1="778.8" x2="507.5" y2="824.3"/>
<line x1="507.5" y1="824.3" x2="467" y2="966.3"/>
<clipPath id="cg5"><polygon points="475.8,935.5 861,935.5 857.4,951.8 471.1,951.8"/></clipPath>
<g clip-path="url(#cg5)">
<line x1="-2437.85" y1="4221.8" x2="3282.15" y2="-2318.2"/>
<line x1="-2431.15" y1="4221.8" x2="3288.85" y2="-2318.2"/>
<line x1="-2417.9" y1="4221.8" x2="3302.1" y2="-2318.2"/>
<line x1="-2411.2" y1="4221.8" x2="3308.8" y2="-2318.2"/>
<line x1="-2397.95" y1="4221.8" x2="3322.05" y2="-2318.2"/>
<line x1="-2391.25" y1="4221.8" x2="3328.75" y2="-2318.2"/>
<line x1="-2378" y1="4221.8" x2="3342" y2="-2318.2"/>
<line x1="-2371.3" y1="4221.8" x2="3348.7" y2="-2318.2"/>
<line x1="-2358.05" y1="4221.8" x2="3361.95" y2="-2318.2"/>
<line x1="-2351.35" y1="4221.8" x2="3368.65" y2="-2318.2"/>
<line x1="-2338.1" y1="4221.8" x2="3381.9" y2="-2318.2"/>
<line x1="-2331.4" y1="4221.8" x2="3388.6" y2="-2318.2"/>
<line x1="-2318.15" y1="4221.8" x2="3401.85" y2="-2318.2"/>
<line x1="-2311.45" y1="4221.8" x2="3408.55" y2="-2318.2"/>
<line x1="-2298.2" y1="4221.8" x2="3421.8" y2="-2318.2"/>
<line x1="-2291.5" y1="4221.8" x2="3428.5" y2="-2318.2"/>
<line x1="-2278.25" y1="4221.8" x2="3441.75" y2="-2318.2"/>
<line x1="-2271.55" y1="4221.8" x2="3448.45" y2="-2318.2"/>
<line x1="-2258.3" y1="4221.8" x2="3461.7" y2="-2318.2"/>
<line x1="-2251.6" y1="4221.8" x2="3468.4" y2="-2318.2"/>
<line x1="-2238.35" y1="4221.8" x2="3481.65" y2="-2318.2"/>
<line x1="-2231.65" y1="4221.8" x2="3488.35" y2="-2318.2"/>
<line x1="-2218.4" y1="4221.8" x2="3501.6" y2="-2318.2"/>
<line x1="-2211.7" y1="4221.8" x2="3508.3" y2="-2318.2"/>
<line x1="-2198.45" y1="4221.8" x2="3521.55" y2="-2318.2"/>
<line x1="-2191.75" y1="4221.8" x2="3528.25" y2="-2318.2"/>
<line x1="-2178.5" y1="4221.8" x2="3541.5" y2="-2318.2"/>
<line x1="-2171.8" y1="4221.8" x2="3548.2" y2="-2318.2"/>
<line x1="-2158.55" y1="4221.8" x2="3561.45" y2="-2318.2"/>
<line x1="-2151.85" y1="4221.8" x2="3568.15" y2="-2318.2"/>
<line x1="-2138.6" y1="4221.8" x2="3581.4" y2="-2318.2"/>
<line x1="-2131.9" y1="4221.8" x2="3588.1" y2="-2318.2"/>
<line x1="-2118.65" y1="4221.8" x2="3601.35" y2="-2318.2"/>
<line x1="-2111.95" y1="4221.8" x2="3608.05" y2="-2318.2"/>
<line x1="-2098.7" y1="4221.8" x2="3621.3" y2="-2318.2"/>
<line x1="-2092" y1="4221.8" x2="3628" y2="-2318.2"/>
<line x1="-2078.75" y1="4221.8" x2="3641.25" y2="-2318.2"/>
<line x1="-2072.05" y1="4221.8" x2="3647.95" y2="-2318.2"/>
<line x1="-2058.8" y1="4221.8" x2="3661.2" y2="-2318.2"/>
<line x1="-2052.1" y1="4221.8" x2="3667.9" y2="-2318.2"/>
<line x1="-2038.85" y1="4221.8" x2="3681.15" y2="-2318.2"/>
<line x1="-2032.15" y1="4221.8" x2="3687.85" y2="-2318.2"/>
<line x1="-2018.9" y1="4221.8" x2="3701.1" y2="-2318.2"/>
<line x1="-2012.2" y1="4221.8" x2="3707.8" y2="-2318.2"/>
<line x1="-1998.95" y1="4221.8" x2="3721.05" y2="-2318.2"/>
<line x1="-1992.25" y1="4221.8" x2="3727.75" y2="-2318.2"/>
</g>
<line x1="476" y1="935.5" x2="861" y2="935.5"/>
<line x1="482.5" y1="928.6" x2="496.3" y2="928.6"/>
<line x1="496.3" y1="928.6" x2="489.3" y2="935.2"/>
<line x1="489.3" y1="935.2" x2="482.5" y2="928.6"/>
<line x1="482.5" y1="928.6" x2="523" y2="928.6"/>
<text x="498.8" y="925.2" font-size="9.6" class="ib" textLength="15.2" lengthAdjust="spacingAndGlyphs">0.00</text>
<line x1="626.3" y1="760.5" x2="626.3" y2="935.5"/>
<line x1="628.8" y1="762.5" x2="628.8" y2="935.5"/>
<line x1="636.3" y1="762.5" x2="636.3" y2="935.5"/>
<line x1="725.5" y1="762.5" x2="725.5" y2="935.5"/>
<line x1="727.9" y1="760.5" x2="727.9" y2="935.5"/>
<line x1="626.3" y1="760.5" x2="727.9" y2="760.5"/>
<line x1="628.8" y1="762.5" x2="725.5" y2="762.5"/>
<line x1="636.3" y1="770" x2="718.8" y2="763.2"/>
<line x1="636" y1="765" x2="654" y2="765" style="stroke-width:1.6"/>
<line x1="705" y1="763.2" x2="719" y2="763.2" style="stroke-width:1.6"/>
<line x1="641.3" y1="768.8" x2="630" y2="797.5"/>
<text x="630.3" y="802.13" font-size="6.77" class="cl" textLength="16" lengthAdjust="spacingAndGlyphs">门磁</text>
<circle cx="643.3" cy="858.3" r="2.9"/>
<rect x="639.3" y="751.3" width="9" height="8.9"/>
<line x1="648.3" y1="754.6" x2="744.4" y2="754.6"/>
<line x1="648.3" y1="757.3" x2="744.4" y2="757.3"/>
<line x1="648.8" y1="752.5" x2="652.5" y2="747.6"/>
<line x1="652.5" y1="747.6" x2="701.3" y2="747.6"/>
<text x="656" y="745.52" font-size="6.88" class="cl" textLength="34" lengthAdjust="spacingAndGlyphs">电插锁/磁力锁</text>
<text x="706" y="741.01" font-size="5.59" class="cs" textLength="14.3" lengthAdjust="spacingAndGlyphs">PVC20</text>
<line x1="705" y1="742.3" x2="720.5" y2="742.3"/>
<line x1="720.3" y1="742.3" x2="727.8" y2="755"/>
<rect class="k" x="728.6" y="753.4" width="1.6" height="1.2"/>
<rect class="k" x="731" y="753" width="2.4" height="1"/>
<line x1="727.9" y1="852.5" x2="746.4" y2="852.5"/>
<line x1="746.4" y1="849.5" x2="746.4" y2="855"/>
<rect class="k" x="735.2" y="849.3" width="4.8" height="3"/>
<line x1="748" y1="652.5" x2="748" y2="750.3"/>
<line x1="750.9" y1="654" x2="750.9" y2="750.3"/>
<line x1="748" y1="652.5" x2="757.3" y2="638"/>
<line x1="750.9" y1="654" x2="760.3" y2="639"/>
<rect x="744.4" y="750.3" width="9" height="9.1" style="fill:#fff"/>
<clipPath id="cb5"><path d="M741.1,760.4 C740.48,761.38 738.55,763.72 737.4,766.3 C736.25,768.88 734.47,772.88 734.2,775.9 C733.93,778.92 735.53,781.02 735.8,784.4 C736.07,787.78 735.63,792.82 735.8,796.2 C735.97,799.58 735.73,802.03 736.8,804.7 C737.87,807.37 741.67,809.88 742.2,812.2 C742.73,814.52 740.98,816.28 740,818.6 C739.02,820.92 736.83,823.78 736.3,826.1 C735.77,828.42 736.35,830.73 736.8,832.5 C737.25,834.27 738.02,834.57 739,836.7 C739.98,838.83 741.2,843.17 742.7,845.3 C744.2,847.43 745.87,849.15 748,849.5 C750.13,849.85 753.17,847.43 755.5,847.4 C757.83,847.37 759.87,849.12 762,849.3 C764.13,849.48 766.18,849.17 768.3,848.5 C770.42,847.83 773.28,847.27 774.7,845.3 C776.12,843.33 776.53,839.55 776.8,836.7 C777.07,833.85 776.83,830.87 776.3,828.2 C775.77,825.53 774.93,823.02 773.6,820.7 C772.27,818.38 769.72,816.62 768.3,814.3 C766.88,811.98 765.18,808.93 765.1,806.8 C765.02,804.67 767.98,803.45 767.8,801.5 C767.62,799.55 764.9,797.42 764,795.1 C763.1,792.78 762.57,790.62 762.4,787.6 C762.23,784.58 763.27,780.55 763,777 C762.73,773.45 762.05,768.88 760.8,766.3 C759.55,763.72 758.78,762.48 755.5,761.5 C752.22,760.52 743.5,760.58 741.1,760.4" clip-rule="evenodd"/></clipPath>
<g clip-path="url(#cb5)">
<line x1="725" y1="769.5" x2="785" y2="769.5"/>
<line x1="743.2" y1="762.56" x2="743.2" y2="769.5"/>
<line x1="757.1" y1="762.56" x2="757.1" y2="769.5"/>
<line x1="771" y1="762.56" x2="771" y2="769.5"/>
<line x1="725" y1="776.44" x2="785" y2="776.44"/>
<line x1="736.3" y1="769.5" x2="736.3" y2="776.44"/>
<line x1="750.2" y1="769.5" x2="750.2" y2="776.44"/>
<line x1="764.1" y1="769.5" x2="764.1" y2="776.44"/>
<line x1="778" y1="769.5" x2="778" y2="776.44"/>
<line x1="725" y1="783.38" x2="785" y2="783.38"/>
<line x1="743.2" y1="776.44" x2="743.2" y2="783.38"/>
<line x1="757.1" y1="776.44" x2="757.1" y2="783.38"/>
<line x1="771" y1="776.44" x2="771" y2="783.38"/>
<line x1="725" y1="790.32" x2="785" y2="790.32"/>
<line x1="736.3" y1="783.38" x2="736.3" y2="790.32"/>
<line x1="750.2" y1="783.38" x2="750.2" y2="790.32"/>
<line x1="764.1" y1="783.38" x2="764.1" y2="790.32"/>
<line x1="778" y1="783.38" x2="778" y2="790.32"/>
<line x1="725" y1="797.26" x2="785" y2="797.26"/>
<line x1="743.2" y1="790.32" x2="743.2" y2="797.26"/>
<line x1="757.1" y1="790.32" x2="757.1" y2="797.26"/>
<line x1="771" y1="790.32" x2="771" y2="797.26"/>
<line x1="725" y1="804.2" x2="785" y2="804.2"/>
<line x1="736.3" y1="797.26" x2="736.3" y2="804.2"/>
<line x1="750.2" y1="797.26" x2="750.2" y2="804.2"/>
<line x1="764.1" y1="797.26" x2="764.1" y2="804.2"/>
<line x1="778" y1="797.26" x2="778" y2="804.2"/>
<line x1="725" y1="811.14" x2="785" y2="811.14"/>
<line x1="743.2" y1="804.2" x2="743.2" y2="811.14"/>
<line x1="757.1" y1="804.2" x2="757.1" y2="811.14"/>
<line x1="771" y1="804.2" x2="771" y2="811.14"/>
<line x1="725" y1="818.08" x2="785" y2="818.08"/>
<line x1="736.3" y1="811.14" x2="736.3" y2="818.08"/>
<line x1="750.2" y1="811.14" x2="750.2" y2="818.08"/>
<line x1="764.1" y1="811.14" x2="764.1" y2="818.08"/>
<line x1="778" y1="811.14" x2="778" y2="818.08"/>
<line x1="725" y1="825.02" x2="785" y2="825.02"/>
<line x1="743.2" y1="818.08" x2="743.2" y2="825.02"/>
<line x1="757.1" y1="818.08" x2="757.1" y2="825.02"/>
<line x1="771" y1="818.08" x2="771" y2="825.02"/>
<line x1="725" y1="831.96" x2="785" y2="831.96"/>
<line x1="736.3" y1="825.02" x2="736.3" y2="831.96"/>
<line x1="750.2" y1="825.02" x2="750.2" y2="831.96"/>
<line x1="764.1" y1="825.02" x2="764.1" y2="831.96"/>
<line x1="778" y1="825.02" x2="778" y2="831.96"/>
<line x1="725" y1="838.9" x2="785" y2="838.9"/>
<line x1="743.2" y1="831.96" x2="743.2" y2="838.9"/>
<line x1="757.1" y1="831.96" x2="757.1" y2="838.9"/>
<line x1="771" y1="831.96" x2="771" y2="838.9"/>
<line x1="725" y1="845.84" x2="785" y2="845.84"/>
<line x1="736.3" y1="838.9" x2="736.3" y2="845.84"/>
<line x1="750.2" y1="838.9" x2="750.2" y2="845.84"/>
<line x1="764.1" y1="838.9" x2="764.1" y2="845.84"/>
<line x1="778" y1="838.9" x2="778" y2="845.84"/>
<line x1="743.2" y1="845.84" x2="743.2" y2="852.78"/>
<line x1="757.1" y1="845.84" x2="757.1" y2="852.78"/>
<line x1="771" y1="845.84" x2="771" y2="852.78"/>
</g>
<path d="M741.1,760.4 C740.48,761.38 738.55,763.72 737.4,766.3 C736.25,768.88 734.47,772.88 734.2,775.9 C733.93,778.92 735.53,781.02 735.8,784.4 C736.07,787.78 735.63,792.82 735.8,796.2 C735.97,799.58 735.73,802.03 736.8,804.7 C737.87,807.37 741.67,809.88 742.2,812.2 C742.73,814.52 740.98,816.28 740,818.6 C739.02,820.92 736.83,823.78 736.3,826.1 C735.77,828.42 736.35,830.73 736.8,832.5 C737.25,834.27 738.02,834.57 739,836.7 C739.98,838.83 741.2,843.17 742.7,845.3 C744.2,847.43 745.87,849.15 748,849.5 C750.13,849.85 753.17,847.43 755.5,847.4 C757.83,847.37 759.87,849.12 762,849.3 C764.13,849.48 766.18,849.17 768.3,848.5 C770.42,847.83 773.28,847.27 774.7,845.3 C776.12,843.33 776.53,839.55 776.8,836.7 C777.07,833.85 776.83,830.87 776.3,828.2 C775.77,825.53 774.93,823.02 773.6,820.7 C772.27,818.38 769.72,816.62 768.3,814.3 C766.88,811.98 765.18,808.93 765.1,806.8 C765.02,804.67 767.98,803.45 767.8,801.5 C767.62,799.55 764.9,797.42 764,795.1 C763.1,792.78 762.57,790.62 762.4,787.6 C762.23,784.58 763.27,780.55 763,777 C762.73,773.45 762.05,768.88 760.8,766.3 C759.55,763.72 758.78,762.48 755.5,761.5 C752.22,760.52 743.5,760.58 741.1,760.4"/>
<rect class="nf" x="748.4" y="759.4" width="2.2" height="73.5"/>
<line x1="748" y1="759.4" x2="748" y2="833"/>
<line x1="750.9" y1="759.4" x2="750.9" y2="833"/>
<rect x="747" y="833" width="8.5" height="9" style="fill:#fff"/>
<ellipse cx="750.3" cy="836" rx="1.5" ry="0.9" transform="rotate(-30 750.3 836)"/>
<line x1="755.5" y1="838.5" x2="761.5" y2="838.5"/>
<line x1="755.5" y1="841.5" x2="760" y2="841.5"/>
<line x1="749" y1="842" x2="749" y2="848.5"/>
<line x1="751.5" y1="842" x2="751.5" y2="848.5"/>
<line x1="754.6" y1="842" x2="754.6" y2="933.5"/>
<line x1="749.9" y1="657.1" x2="798.6" y2="634.3"/>
<line x1="798.6" y1="634.3" x2="870" y2="634.3"/>
<text x="805.5" y="632.1" font-size="7.1" class="cs" textLength="42" lengthAdjust="spacingAndGlyphs">插入PVC25线路管</text>
<line x1="760" y1="781.3" x2="793.8" y2="765.2"/>
<text x="794.5" y="768.13" font-size="6.77" class="cl" textLength="30.5" lengthAdjust="spacingAndGlyphs">读卡器(距地1.4m)</text>
<text x="762.5" y="795.2" font-size="5.7" class="cs" textLength="11.3" lengthAdjust="spacingAndGlyphs">86盒</text>
<line x1="761.5" y1="796.5" x2="774" y2="796.5"/>
<line x1="763" y1="796.5" x2="750.5" y2="806.3"/>
<line x1="798.8" y1="809.5" x2="751.3" y2="835.5"/>
<text x="800" y="812.72" font-size="6.88" class="cl" textLength="65.5" lengthAdjust="spacingAndGlyphs">出门按钮(距地1.4m)预埋86盒</text>
<line x1="781.9" y1="868.5" x2="760.9" y2="846.6"/>
<text x="762" y="878.13" font-size="6.67" class="cl" textLength="45" lengthAdjust="spacingAndGlyphs">门禁读卡器预埋底盒</text>
<text x="762" y="888.1" font-size="7.1" class="cl" textLength="102" lengthAdjust="spacingAndGlyphs">底盒安装位置及高度详见门禁系统安装说明及图例</text>
<rect class="k" x="749" y="891.5" width="0.6" height="0.6" style="stroke:none"/>
<line x1="872.9" y1="656.7" x2="847.5" y2="770.4"/>
<line x1="847.5" y1="770.4" x2="886.6" y2="818"/>
<line x1="886.6" y1="818" x2="854.2" y2="966.6"/>
<rect x="904" y="653.3" width="44" height="26.3"/>
<text x="912.3" y="665.29" font-size="7.31" class="cs" textLength="17.2" lengthAdjust="spacingAndGlyphs">门禁控制器</text>
<text x="899" y="690.15" font-size="6.45" class="cs" textLength="52.3" lengthAdjust="spacingAndGlyphs">本图门禁控制器安装在弱电井内,</text>
<text x="899" y="701.73" font-size="6.67" class="cs" textLength="54" lengthAdjust="spacingAndGlyphs">线缆沿桥架、线管敷设至各门点.</text>
<text x="654.5" y="1060.45" font-size="12.15" class="cb" textLength="65" lengthAdjust="spacingAndGlyphs">单门门禁安装示意图</text>
<line x1="651" y1="1065.5" x2="759.5" y2="1065.5" style="stroke-width:2.6"/>
</g>
<g id="d6">
<line x1="1103.8" y1="666.3" x2="1039.5" y2="778.8"/>
<line x1="1039.5" y1="778.8" x2="1062" y2="823.3"/>
<line x1="1062" y1="823.3" x2="1021.3" y2="966.3"/>
<clipPath id="cg6"><polygon points="1029.5,935.5 1415.7,935.5 1412.1,951.8 1024.8,951.8"/></clipPath>
<g clip-path="url(#cg6)">
<line x1="-1883.95" y1="4221.8" x2="3836.05" y2="-2318.2"/>
<line x1="-1877.25" y1="4221.8" x2="3842.75" y2="-2318.2"/>
<line x1="-1864" y1="4221.8" x2="3856" y2="-2318.2"/>
<line x1="-1857.3" y1="4221.8" x2="3862.7" y2="-2318.2"/>
<line x1="-1844.05" y1="4221.8" x2="3875.95" y2="-2318.2"/>
<line x1="-1837.35" y1="4221.8" x2="3882.65" y2="-2318.2"/>
<line x1="-1824.1" y1="4221.8" x2="3895.9" y2="-2318.2"/>
<line x1="-1817.4" y1="4221.8" x2="3902.6" y2="-2318.2"/>
<line x1="-1804.15" y1="4221.8" x2="3915.85" y2="-2318.2"/>
<line x1="-1797.45" y1="4221.8" x2="3922.55" y2="-2318.2"/>
<line x1="-1784.2" y1="4221.8" x2="3935.8" y2="-2318.2"/>
<line x1="-1777.5" y1="4221.8" x2="3942.5" y2="-2318.2"/>
<line x1="-1764.25" y1="4221.8" x2="3955.75" y2="-2318.2"/>
<line x1="-1757.55" y1="4221.8" x2="3962.45" y2="-2318.2"/>
<line x1="-1744.3" y1="4221.8" x2="3975.7" y2="-2318.2"/>
<line x1="-1737.6" y1="4221.8" x2="3982.4" y2="-2318.2"/>
<line x1="-1724.35" y1="4221.8" x2="3995.65" y2="-2318.2"/>
<line x1="-1717.65" y1="4221.8" x2="4002.35" y2="-2318.2"/>
<line x1="-1704.4" y1="4221.8" x2="4015.6" y2="-2318.2"/>
<line x1="-1697.7" y1="4221.8" x2="4022.3" y2="-2318.2"/>
<line x1="-1684.45" y1="4221.8" x2="4035.55" y2="-2318.2"/>
<line x1="-1677.75" y1="4221.8" x2="4042.25" y2="-2318.2"/>
<line x1="-1664.5" y1="4221.8" x2="4055.5" y2="-2318.2"/>
<line x1="-1657.8" y1="4221.8" x2="4062.2" y2="-2318.2"/>
<line x1="-1644.55" y1="4221.8" x2="4075.45" y2="-2318.2"/>
<line x1="-1637.85" y1="4221.8" x2="4082.15" y2="-2318.2"/>
<line x1="-1624.6" y1="4221.8" x2="4095.4" y2="-2318.2"/>
<line x1="-1617.9" y1="4221.8" x2="4102.1" y2="-2318.2"/>
<line x1="-1604.65" y1="4221.8" x2="4115.35" y2="-2318.2"/>
<line x1="-1597.95" y1="4221.8" x2="4122.05" y2="-2318.2"/>
<line x1="-1584.7" y1="4221.8" x2="4135.3" y2="-2318.2"/>
<line x1="-1578" y1="4221.8" x2="4142" y2="-2318.2"/>
<line x1="-1564.75" y1="4221.8" x2="4155.25" y2="-2318.2"/>
<line x1="-1558.05" y1="4221.8" x2="4161.95" y2="-2318.2"/>
<line x1="-1544.8" y1="4221.8" x2="4175.2" y2="-2318.2"/>
<line x1="-1538.1" y1="4221.8" x2="4181.9" y2="-2318.2"/>
<line x1="-1524.85" y1="4221.8" x2="4195.15" y2="-2318.2"/>
<line x1="-1518.15" y1="4221.8" x2="4201.85" y2="-2318.2"/>
<line x1="-1504.9" y1="4221.8" x2="4215.1" y2="-2318.2"/>
<line x1="-1498.2" y1="4221.8" x2="4221.8" y2="-2318.2"/>
<line x1="-1484.95" y1="4221.8" x2="4235.05" y2="-2318.2"/>
<line x1="-1478.25" y1="4221.8" x2="4241.75" y2="-2318.2"/>
<line x1="-1465" y1="4221.8" x2="4255" y2="-2318.2"/>
<line x1="-1458.3" y1="4221.8" x2="4261.7" y2="-2318.2"/>
<line x1="-1445.05" y1="4221.8" x2="4274.95" y2="-2318.2"/>
<line x1="-1438.35" y1="4221.8" x2="4281.65" y2="-2318.2"/>
</g>
<line x1="1029.7" y1="935.5" x2="1415.7" y2="935.5"/>
<line x1="1037" y1="928.6" x2="1050.8" y2="928.6"/>
<line x1="1050.8" y1="928.6" x2="1043.8" y2="935.2"/>
<line x1="1043.8" y1="935.2" x2="1037" y2="928.6"/>
<line x1="1037" y1="928.6" x2="1077.5" y2="928.6"/>
<text x="1053.3" y="925.2" font-size="9.6" class="ib" textLength="15.2" lengthAdjust="spacingAndGlyphs">0.00</text>
<line x1="1097.5" y1="935.6" x2="1281.3" y2="935.6" style="stroke-width:2"/>
<line x1="1097.2" y1="760.5" x2="1097.2" y2="935.5"/>
<line x1="1100.6" y1="762.5" x2="1100.6" y2="935.5"/>
<line x1="1097.2" y1="760.5" x2="1280.2" y2="760.5"/>
<line x1="1100.6" y1="762.5" x2="1279" y2="762.5"/>
<line x1="1279.6" y1="760.5" x2="1279.6" y2="935.5" style="stroke-width:1.6"/>
<line x1="1100.6" y1="762.5" x2="1170" y2="774.3"/>
<line x1="1170" y1="774.3" x2="1170" y2="935.5"/>
<line x1="1191.3" y1="769.5" x2="1272.5" y2="762.7"/>
<line x1="1191.3" y1="769.5" x2="1191.3" y2="935.5"/>
<line x1="1103" y1="763.3" x2="1108" y2="763.3" style="stroke-width:1.6"/>
<line x1="1262" y1="762.9" x2="1273" y2="762.9" style="stroke-width:1.6"/>
<line x1="1160" y1="765.2" x2="1178" y2="765.2" style="stroke-width:1.8"/>
<line x1="1190" y1="765.2" x2="1208.8" y2="765.2" style="stroke-width:1.8"/>
<line x1="1172" y1="768" x2="1185.5" y2="796.3"/>
<line x1="1195.5" y1="768.8" x2="1185.5" y2="796.3"/>
<text x="1180.5" y="802.39" font-size="5.81" class="cl" textLength="15.5" lengthAdjust="spacingAndGlyphs">门磁</text>
<circle cx="1162.5" cy="861.3" r="2.9"/>
<circle cx="1197.5" cy="858.3" r="2.9"/>
<rect x="1181.3" y="751.3" width="8.7" height="8.9"/>
<line x1="1190" y1="754.6" x2="1299.1" y2="754.6"/>
<line x1="1190" y1="757.3" x2="1299.1" y2="757.3"/>
<line x1="1190" y1="751.3" x2="1193.8" y2="747.6"/>
<line x1="1193.8" y1="747.6" x2="1242.5" y2="747.6"/>
<text x="1198.8" y="745.73" font-size="6.67" class="cl" textLength="32" lengthAdjust="spacingAndGlyphs">电插锁/磁力锁</text>
<text x="1260.8" y="741.01" font-size="5.59" class="cs" textLength="14.3" lengthAdjust="spacingAndGlyphs">PVC20</text>
<line x1="1260" y1="742.5" x2="1275.5" y2="742.5"/>
<line x1="1275.3" y1="742.5" x2="1282.5" y2="755"/>
<rect class="k" x="1283.3" y="753.4" width="1.6" height="1.2"/>
<rect class="k" x="1285.7" y="753" width="2.4" height="1"/>
<line x1="1282.8" y1="852.4" x2="1301.5" y2="852.4"/>
<line x1="1282.8" y1="837.5" x2="1282.8" y2="854"/>
<line x1="1301.5" y1="849.5" x2="1301.5" y2="855"/>
<rect class="k" x="1288.5" y="849.2" width="5.6" height="3.2"/>
<line x1="1302.7" y1="652.5" x2="1302.7" y2="750.3"/>
<line x1="1305.6" y1="654" x2="1305.6" y2="750.3"/>
<line x1="1302.7" y1="652.5" x2="1312" y2="638"/>
<line x1="1305.6" y1="654" x2="1315" y2="639"/>
<rect x="1299.1" y="750.3" width="9" height="9.1" style="fill:#fff"/>
<clipPath id="cb6"><path d="M1295.8,760.4 C1295.18,761.38 1293.25,763.72 1292.1,766.3 C1290.95,768.88 1289.17,772.88 1288.9,775.9 C1288.63,778.92 1290.23,781.02 1290.5,784.4 C1290.77,787.78 1290.33,792.82 1290.5,796.2 C1290.67,799.58 1290.43,802.03 1291.5,804.7 C1292.57,807.37 1296.37,809.88 1296.9,812.2 C1297.43,814.52 1295.68,816.28 1294.7,818.6 C1293.72,820.92 1291.53,823.78 1291,826.1 C1290.47,828.42 1291.05,830.73 1291.5,832.5 C1291.95,834.27 1292.72,834.57 1293.7,836.7 C1294.68,838.83 1295.9,843.17 1297.4,845.3 C1298.9,847.43 1300.57,849.15 1302.7,849.5 C1304.83,849.85 1307.87,847.43 1310.2,847.4 C1312.53,847.37 1314.57,849.12 1316.7,849.3 C1318.83,849.48 1320.88,849.17 1323,848.5 C1325.12,847.83 1327.98,847.27 1329.4,845.3 C1330.82,843.33 1331.23,839.55 1331.5,836.7 C1331.77,833.85 1331.53,830.87 1331,828.2 C1330.47,825.53 1329.63,823.02 1328.3,820.7 C1326.97,818.38 1324.42,816.62 1323,814.3 C1321.58,811.98 1319.88,808.93 1319.8,806.8 C1319.72,804.67 1322.68,803.45 1322.5,801.5 C1322.32,799.55 1319.6,797.42 1318.7,795.1 C1317.8,792.78 1317.27,790.62 1317.1,787.6 C1316.93,784.58 1317.97,780.55 1317.7,777 C1317.43,773.45 1316.75,768.88 1315.5,766.3 C1314.25,763.72 1313.48,762.48 1310.2,761.5 C1306.92,760.52 1298.2,760.58 1295.8,760.4" clip-rule="evenodd"/></clipPath>
<g clip-path="url(#cb6)">
<line x1="1279.7" y1="769.5" x2="1339.7" y2="769.5"/>
<line x1="1297.9" y1="762.56" x2="1297.9" y2="769.5"/>
<line x1="1311.8" y1="762.56" x2="1311.8" y2="769.5"/>
<line x1="1325.7" y1="762.56" x2="1325.7" y2="769.5"/>
<line x1="1279.7" y1="776.44" x2="1339.7" y2="776.44"/>
<line x1="1291" y1="769.5" x2="1291" y2="776.44"/>
<line x1="1304.9" y1="769.5" x2="1304.9" y2="776.44"/>
<line x1="1318.8" y1="769.5" x2="1318.8" y2="776.44"/>
<line x1="1332.7" y1="769.5" x2="1332.7" y2="776.44"/>
<line x1="1279.7" y1="783.38" x2="1339.7" y2="783.38"/>
<line x1="1297.9" y1="776.44" x2="1297.9" y2="783.38"/>
<line x1="1311.8" y1="776.44" x2="1311.8" y2="783.38"/>
<line x1="1325.7" y1="776.44" x2="1325.7" y2="783.38"/>
<line x1="1279.7" y1="790.32" x2="1339.7" y2="790.32"/>
<line x1="1291" y1="783.38" x2="1291" y2="790.32"/>
<line x1="1304.9" y1="783.38" x2="1304.9" y2="790.32"/>
<line x1="1318.8" y1="783.38" x2="1318.8" y2="790.32"/>
<line x1="1332.7" y1="783.38" x2="1332.7" y2="790.32"/>
<line x1="1279.7" y1="797.26" x2="1339.7" y2="797.26"/>
<line x1="1297.9" y1="790.32" x2="1297.9" y2="797.26"/>
<line x1="1311.8" y1="790.32" x2="1311.8" y2="797.26"/>
<line x1="1325.7" y1="790.32" x2="1325.7" y2="797.26"/>
<line x1="1279.7" y1="804.2" x2="1339.7" y2="804.2"/>
<line x1="1291" y1="797.26" x2="1291" y2="804.2"/>
<line x1="1304.9" y1="797.26" x2="1304.9" y2="804.2"/>
<line x1="1318.8" y1="797.26" x2="1318.8" y2="804.2"/>
<line x1="1332.7" y1="797.26" x2="1332.7" y2="804.2"/>
<line x1="1279.7" y1="811.14" x2="1339.7" y2="811.14"/>
<line x1="1297.9" y1="804.2" x2="1297.9" y2="811.14"/>
<line x1="1311.8" y1="804.2" x2="1311.8" y2="811.14"/>
<line x1="1325.7" y1="804.2" x2="1325.7" y2="811.14"/>
<line x1="1279.7" y1="818.08" x2="1339.7" y2="818.08"/>
<line x1="1291" y1="811.14" x2="1291" y2="818.08"/>
<line x1="1304.9" y1="811.14" x2="1304.9" y2="818.08"/>
<line x1="1318.8" y1="811.14" x2="1318.8" y2="818.08"/>
<line x1="1332.7" y1="811.14" x2="1332.7" y2="818.08"/>
<line x1="1279.7" y1="825.02" x2="1339.7" y2="825.02"/>
<line x1="1297.9" y1="818.08" x2="1297.9" y2="825.02"/>
<line x1="1311.8" y1="818.08" x2="1311.8" y2="825.02"/>
<line x1="1325.7" y1="818.08" x2="1325.7" y2="825.02"/>
<line x1="1279.7" y1="831.96" x2="1339.7" y2="831.96"/>
<line x1="1291" y1="825.02" x2="1291" y2="831.96"/>
<line x1="1304.9" y1="825.02" x2="1304.9" y2="831.96"/>
<line x1="1318.8" y1="825.02" x2="1318.8" y2="831.96"/>
<line x1="1332.7" y1="825.02" x2="1332.7" y2="831.96"/>
<line x1="1279.7" y1="838.9" x2="1339.7" y2="838.9"/>
<line x1="1297.9" y1="831.96" x2="1297.9" y2="838.9"/>
<line x1="1311.8" y1="831.96" x2="1311.8" y2="838.9"/>
<line x1="1325.7" y1="831.96" x2="1325.7" y2="838.9"/>
<line x1="1279.7" y1="845.84" x2="1339.7" y2="845.84"/>
<line x1="1291" y1="838.9" x2="1291" y2="845.84"/>
<line x1="1304.9" y1="838.9" x2="1304.9" y2="845.84"/>
<line x1="1318.8" y1="838.9" x2="1318.8" y2="845.84"/>
<line x1="1332.7" y1="838.9" x2="1332.7" y2="845.84"/>
<line x1="1297.9" y1="845.84" x2="1297.9" y2="852.78"/>
<line x1="1311.8" y1="845.84" x2="1311.8" y2="852.78"/>
<line x1="1325.7" y1="845.84" x2="1325.7" y2="852.78"/>
</g>
<path d="M1295.8,760.4 C1295.18,761.38 1293.25,763.72 1292.1,766.3 C1290.95,768.88 1289.17,772.88 1288.9,775.9 C1288.63,778.92 1290.23,781.02 1290.5,784.4 C1290.77,787.78 1290.33,792.82 1290.5,796.2 C1290.67,799.58 1290.43,802.03 1291.5,804.7 C1292.57,807.37 1296.37,809.88 1296.9,812.2 C1297.43,814.52 1295.68,816.28 1294.7,818.6 C1293.72,820.92 1291.53,823.78 1291,826.1 C1290.47,828.42 1291.05,830.73 1291.5,832.5 C1291.95,834.27 1292.72,834.57 1293.7,836.7 C1294.68,838.83 1295.9,843.17 1297.4,845.3 C1298.9,847.43 1300.57,849.15 1302.7,849.5 C1304.83,849.85 1307.87,847.43 1310.2,847.4 C1312.53,847.37 1314.57,849.12 1316.7,849.3 C1318.83,849.48 1320.88,849.17 1323,848.5 C1325.12,847.83 1327.98,847.27 1329.4,845.3 C1330.82,843.33 1331.23,839.55 1331.5,836.7 C1331.77,833.85 1331.53,830.87 1331,828.2 C1330.47,825.53 1329.63,823.02 1328.3,820.7 C1326.97,818.38 1324.42,816.62 1323,814.3 C1321.58,811.98 1319.88,808.93 1319.8,806.8 C1319.72,804.67 1322.68,803.45 1322.5,801.5 C1322.32,799.55 1319.6,797.42 1318.7,795.1 C1317.8,792.78 1317.27,790.62 1317.1,787.6 C1316.93,784.58 1317.97,780.55 1317.7,777 C1317.43,773.45 1316.75,768.88 1315.5,766.3 C1314.25,763.72 1313.48,762.48 1310.2,761.5 C1306.92,760.52 1298.2,760.58 1295.8,760.4"/>
<rect class="nf" x="1303.1" y="759.4" width="2.2" height="73.5"/>
<line x1="1302.7" y1="759.4" x2="1302.7" y2="833"/>
<line x1="1305.6" y1="759.4" x2="1305.6" y2="833"/>
<rect x="1301.7" y="833" width="8.5" height="9" style="fill:#fff"/>
<ellipse cx="1305" cy="836" rx="1.5" ry="0.9" transform="rotate(-30 1305 836)"/>
<line x1="1310.2" y1="838.5" x2="1316.2" y2="838.5"/>
<line x1="1310.2" y1="841.5" x2="1314.7" y2="841.5"/>
<line x1="1303.7" y1="842" x2="1303.7" y2="848.5"/>
<line x1="1306.2" y1="842" x2="1306.2" y2="848.5"/>
<line x1="1309.3" y1="842" x2="1309.3" y2="933.5"/>
<line x1="1304.6" y1="657.1" x2="1353.3" y2="634.3"/>
<line x1="1353.3" y1="634.3" x2="1424.7" y2="634.3"/>
<text x="1360.2" y="632.1" font-size="7.1" class="cs" textLength="48.5" lengthAdjust="spacingAndGlyphs">插入PVC25线路管</text>
<line x1="1314.7" y1="781.3" x2="1348.5" y2="765.2"/>
<text x="1349.2" y="768.13" font-size="6.77" class="cl" textLength="30.5" lengthAdjust="spacingAndGlyphs">读卡器(距地1.4m)</text>
<text x="1317.2" y="795.2" font-size="5.7" class="cs" textLength="11.3" lengthAdjust="spacingAndGlyphs">86盒</text>
<line x1="1316.2" y1="796.5" x2="1328.7" y2="796.5"/>
<line x1="1317.7" y1="796.5" x2="1305.2" y2="806.3"/>
<line x1="1353.5" y1="809.5" x2="1306" y2="835.5"/>
<text x="1354.7" y="812.72" font-size="6.88" class="cl" textLength="65.5" lengthAdjust="spacingAndGlyphs">出门按钮(距地1.4m)预埋86盒</text>
<line x1="1336.6" y1="873.8" x2="1315.6" y2="846.6"/>
<text x="1316.7" y="883.43" font-size="6.67" class="cl" textLength="45" lengthAdjust="spacingAndGlyphs">门禁读卡器预埋底盒</text>
<text x="1316.7" y="893.4" font-size="7.1" class="cl" textLength="102" lengthAdjust="spacingAndGlyphs">底盒安装位置及高度详见门禁系统安装说明及图例</text>
<rect class="k" x="1303.7" y="891.5" width="0.6" height="0.6" style="stroke:none"/>
<line x1="1427.6" y1="656.7" x2="1402.2" y2="770.4"/>
<line x1="1402.2" y1="770.4" x2="1441.3" y2="818"/>
<line x1="1441.3" y1="818" x2="1408.9" y2="966.6"/>
<rect x="1469" y="663.2" width="43.8" height="26.3"/>
<text x="1477" y="675.83" font-size="6.77" class="cs" textLength="16.8" lengthAdjust="spacingAndGlyphs">门禁控制器</text>
<text x="1463.7" y="700.75" font-size="6.45" class="cs" textLength="52.3" lengthAdjust="spacingAndGlyphs">本图门禁控制器安装在弱电井内,</text>
<text x="1463.7" y="712.15" font-size="6.45" class="cs" textLength="54" lengthAdjust="spacingAndGlyphs">线缆沿桥架、线管敷设至各门点.</text>
<text x="1018.5" y="1016.2" font-size="14.6" class="nt" textLength="384.5" lengthAdjust="spacingAndGlyphs">说明: 门禁读卡器底盒可有86和120两种规格, 可根据相关设备选择.</text>
<text x="1029.5" y="1062.95" font-size="12.15" class="cb" textLength="66" lengthAdjust="spacingAndGlyphs">双门门禁安装示意图</text>
<line x1="1027" y1="1067.5" x2="1133.3" y2="1067.5" style="stroke-width:2.6"/>
</g>
</svg>
</body>
</html>
